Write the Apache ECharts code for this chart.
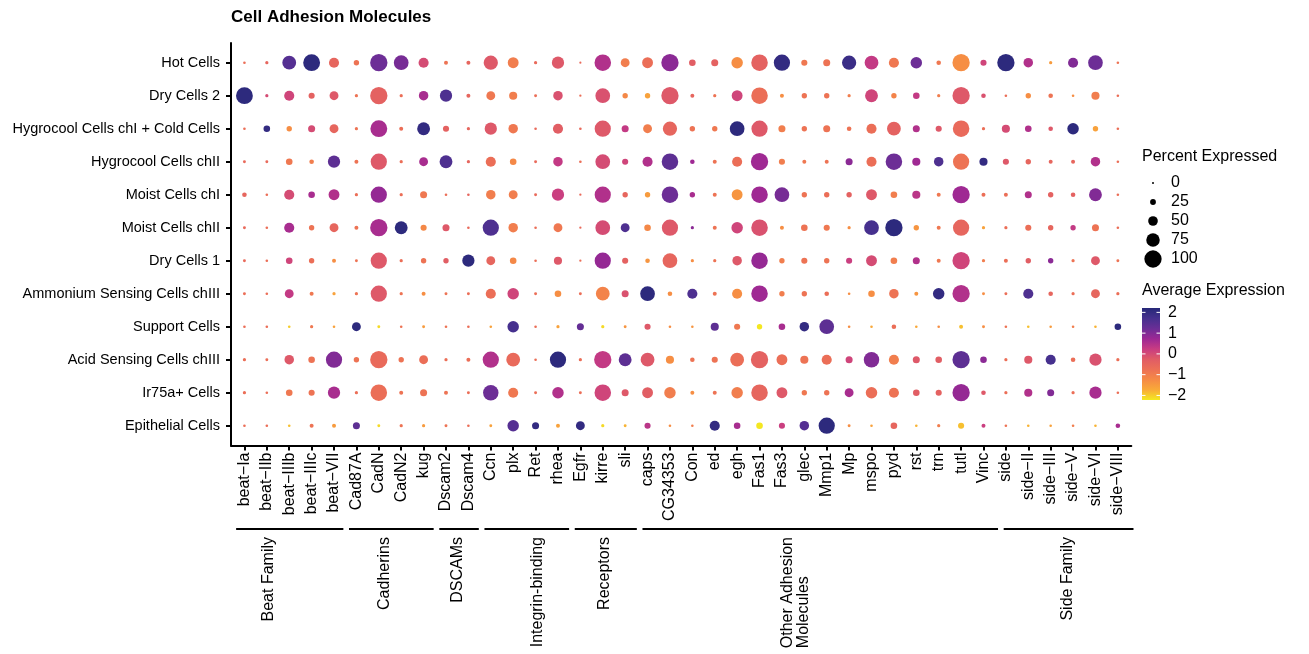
<!DOCTYPE html>
<html>
<head>
<meta charset="utf-8">
<script src="https://cdn.jsdelivr.net/npm/echarts@6/dist/echarts.min.js"></script>
<style>
  html, body { margin: 0; padding: 0; background: #fff; }
  #chart { width: 1309px; height: 654px; }
</style>
</head>
<body>
<div id="chart"></div>
<script>
// Genes (columns) and cell types (rows)
const genes = [
  'beat\u2212Ia', 'beat\u2212IIb', 'beat\u2212IIIb', 'beat\u2212IIIc', 'beat\u2212VII',
  'Cad87A', 'CadN', 'CadN2', 'kug',
  'Dscam2', 'Dscam4',
  'Ccn', 'plx', 'Ret', 'rhea',
  'Egfr', 'kirre', 'sli',
  'caps', 'CG34353', 'Con', 'ed', 'egh', 'Fas1', 'Fas3', 'glec', 'Mmp1', 'Mp', 'mspo', 'pyd', 'rst', 'trn', 'tutl', 'Vinc',
  'side', 'side\u2212II', 'side\u2212III', 'side\u2212V', 'side\u2212VI', 'side\u2212VIII'
];
const cellTypes = [
  'Hot Cells', 'Dry Cells 2', 'Hygrocool Cells chI + Cold Cells', 'Hygrocool Cells chII',
  'Moist Cells chI', 'Moist Cells chII', 'Dry Cells 1', 'Ammonium Sensing Cells chIII',
  'Support Cells', 'Acid Sensing Cells chIII', 'Ir75a+ Cells', 'Epithelial Cells'
];

// Percent of cells expressing each gene (one row per cell type)
const pctExpressed = [
  [4,8,77,97,53,22,100,83,53,13, 13,80,58,8,67,1,95,45,58,100, 30,33,62,95,93,27,33,80,77,53, 62,17,100,27,100,49,8,53,83,4],
  [97,8,53,27,45,8,100,8,49,67, 13,45,40,6,49,2,83,22,22,100, 13,8,58,95,13,22,22,8,71,22, 30,8,100,17,4,22,17,4,40,4],
  [4,30,22,33,45,8,97,13,71,27, 8,67,49,4,53,4,93,33,45,80, 22,22,83,93,33,22,33,17,53,77, 33,27,95,8,40,30,17,62,22,4],
  [6,6,30,17,67,13,93,8,45,71, 8,53,30,6,49,4,83,27,53,95, 17,13,53,100,27,13,13,33,53,95, 40,49,93,40,27,22,13,13,49,4],
  [17,4,53,30,58,8,93,8,33,4, 4,49,45,6,67,2,93,22,22,95, 22,13,58,95,83,22,22,22,58,30, 40,13,100,13,13,33,22,17,71,4],
  [6,4,53,22,45,13,100,71,27,33, 4,93,49,4,45,2,83,45,30,93, 8,13,62,95,13,30,27,8,83,100, 22,13,93,8,8,27,22,22,33,4],
  [6,4,30,22,13,6,93,8,22,22, 67,45,30,4,40,2,93,27,17,83, 8,8,49,95,22,27,22,27,58,30, 33,13,100,8,13,22,22,8,45,6],
  [6,4,45,13,8,8,93,8,13,6, 6,53,62,6,30,6,77,33,83,17, 53,13,53,95,22,22,17,4,30,49, 13,62,100,6,6,53,17,8,45,8],
  [4,4,4,8,4,45,6,4,6,4, 4,4,62,4,8,33,8,6,27,4, 4,40,27,22,30,49,83,4,4,17, 4,4,13,6,4,4,4,4,4,30],
  [8,6,49,30,93,22,100,22,45,8, 13,93,77,4,93,8,100,71,77,40, 17,27,77,100,58,40,53,33,88,53, 33,30,100,30,8,40,53,17,67,8],
  [8,4,30,27,67,8,95,13,33,13, 6,88,53,6,62,6,95,33,58,62, 13,13,62,95,58,22,22,45,62,53, 30,27,100,17,8,40,33,8,67,4],
  [4,4,4,13,13,33,6,8,8,6, 4,6,62,33,13,45,8,6,27,4, 4,53,30,30,27,49,93,6,4,30, 4,8,27,13,4,4,4,4,4,17]
];

// Scaled average expression (one row per cell type)
const avgExpression = [
  [-0.7,-0.5,1.5,2.1,-0.5,-0.8,1.2,1.1,0.0,-0.8, -0.5,-0.2,-1.0,-0.6,-0.2,-0.6,0.5,-1.0,-0.7,0.9, -0.3,-0.4,-1.3,-0.4,2.0,-0.9,-0.8,1.9,0.3,-0.9, 1.2,-0.9,-1.3,0.1,2.1,0.5,-1.5,1.0,1.2,-0.8],
  [2.1,0.0,0.1,-0.4,-0.2,-0.8,-0.4,-0.7,0.6,1.6, -0.5,-0.9,-1.0,-0.7,-0.1,-0.7,-0.1,-1.2,-1.6,-0.2, -0.5,-0.8,0.1,-0.7,-1.3,-0.8,-0.8,-1.0,0.1,-1.1, 0.3,-1.0,-0.2,-0.1,-0.7,-1.3,-0.8,-1.3,-1.0,-0.7],
  [-0.7,2.0,-1.3,0.0,-0.5,-0.8,0.6,-0.7,2.0,-0.4, -0.5,-0.2,-0.9,-0.6,-0.3,-0.6,-0.2,0.3,-1.0,-0.5, -0.8,-0.9,2.1,-0.2,-1.0,-0.8,-0.8,-0.8,-0.7,-0.4, 0.5,-0.2,-0.6,-0.7,0.0,0.5,-0.2,2.1,-1.6,-0.7],
  [-0.6,-0.6,-0.9,-1.0,1.4,-0.8,-0.2,-0.7,0.6,1.6, -0.5,-0.7,-1.2,-0.6,0.3,-0.7,0.0,0.1,0.5,1.4, 0.7,-0.8,-0.7,0.7,-1.0,-0.9,-0.8,0.9,-0.7,1.2, 0.7,1.6,-0.8,2.0,-0.2,-0.5,-0.5,-0.5,0.5,-0.7],
  [-0.5,-0.7,0.0,0.6,0.5,-0.7,0.8,-0.7,-0.9,-0.7, -0.5,-1.0,-1.0,-0.6,0.2,-0.6,0.5,-0.5,-1.5,1.2, 0.6,-0.8,-1.4,0.7,1.1,-0.8,-0.7,-0.4,-0.2,-1.0, 0.4,-0.9,0.7,-0.7,-0.7,0.5,-0.4,-0.4,1.0,-0.7],
  [-0.6,-0.7,0.6,-0.8,-0.5,-0.8,0.6,2.1,-1.2,-0.2, -0.6,1.6,-1.0,-0.7,-0.9,-0.6,0.0,1.6,-1.2,-0.2, 0.9,-0.8,0.1,-0.1,-1.3,-0.8,-0.9,-1.3,1.7,2.1, -1.4,-0.9,-0.5,-1.6,-0.7,-0.7,-0.5,0.3,-0.8,-0.7],
  [-0.6,-0.7,0.1,-0.7,-1.3,-0.8,-0.2,-0.7,-0.8,-0.3, 2.1,-0.5,-1.2,-0.7,-0.2,-0.7,0.8,-0.4,-1.4,-0.5, -1.3,-0.8,-0.2,0.8,-1.0,-0.8,-0.8,0.2,0.0,-1.0, 0.5,-0.9,0.1,-1.0,-0.7,-0.3,0.9,-0.8,-0.2,-0.8],
  [-0.7,-0.7,0.3,-0.9,-1.6,-0.8,-0.2,-0.8,-1.3,-0.8, -0.7,-0.7,0.1,-0.7,-1.3,-0.7,-1.1,-0.1,2.1,-1.3, 1.6,-0.8,-1.3,0.7,-1.0,-0.8,-0.7,-1.3,-1.3,-0.8, -1.4,2.0,0.5,-1.3,-0.7,1.6,-0.5,-0.7,-0.5,-0.7],
  [-0.7,-0.7,-2.0,-0.9,-1.6,2.1,-2.1,-0.8,-1.5,-0.8, -0.7,-1.6,1.7,-0.7,-1.6,1.3,-2.1,-1.4,-0.2,-1.3, -1.4,1.4,-0.9,-2.2,0.6,2.0,1.4,-1.3,-1.7,-0.7, -1.7,-1.3,-1.9,-1.3,-0.8,-1.9,-1.5,-1.0,-1.8,2.1],
  [-0.7,-0.7,-0.2,-0.8,1.0,-0.8,-0.6,-0.8,-0.7,-0.7, -0.7,0.5,-0.6,-0.7,2.1,-0.7,0.3,1.4,-0.2,-1.3, -0.8,-0.8,-0.7,-0.4,-0.7,-0.8,-0.7,0.1,1.0,-1.0, -0.2,-0.3,1.4,0.9,-0.7,-0.2,1.7,-0.7,-0.1,-0.7],
  [-0.7,-0.7,-0.9,-0.8,0.6,-0.7,-0.7,-0.8,-0.8,-0.8, -0.7,1.2,-0.9,-0.7,0.5,-0.7,0.1,-0.2,-0.3,-1.0, -1.3,-0.8,-1.0,-0.5,-0.2,-0.9,-0.8,0.6,-0.7,-0.8, -0.3,-0.4,0.8,-0.2,-0.7,0.5,1.0,-0.7,0.6,-0.7],
  [-0.7,-0.7,-1.9,-0.8,-1.5,1.4,-2.1,-0.8,-1.5,-0.8, -0.7,-1.6,1.5,2.0,-1.6,2.0,-2.1,-1.8,0.4,-1.3, -1.0,2.0,0.6,-2.2,0.2,1.5,2.1,-1.3,-1.6,-0.5, -1.8,-1.0,-1.9,0.2,-0.8,-1.8,-1.6,-1.0,-1.8,0.6]
];

// Gene families along the bottom: names, number of genes, label anchor
const groupNames = ['Beat Family', 'Cadherins', 'DSCAMs', 'Integrin-binding', 'Receptors', 'Other Adhesion\nMolecules', 'Side Family'];
const groupSizes = [5, 4, 2, 4, 3, 16, 6];
const groupLabelAt = [1.47, 6.64, 9.88, 13.42, 16.39, 24.83, 36.87];

// Legend breaks
const sizeBreaks = [0, 25, 50, 75, 100];
const colorTicks = [-2, -1, 0, 1, 2];
const avgRange = [-2.22, 2.21];

// Low -> high colour ramp
const palette = ['#f4ea20', '#f9aa38', '#f58a46', '#ec7056', '#e05c66', '#c83c82', '#9c2894', '#6a2e96', '#45308e', '#262878'];

const FONT = '"Liberation Sans", Arial, Helvetica, sans-serif';
const dotSize = p => 2 + 0.153 * p;
const minus = v => String(v).replace('-', '\u2212');

const dots = [];
cellTypes.forEach((ct, r) => {
  genes.forEach((g, c) => dots.push([c, r, pctExpressed[r][c], avgExpression[r][c]]));
});

// Bracket spans from cumulative family sizes
const brackets = [];
let acc = 0;
groupSizes.forEach((n, i) => {
  brackets.push([acc + 0.05, acc + n - 0.2, groupLabelAt[i]]);
  acc += n;
});

const measureCtx = document.createElement('canvas').getContext('2d');
measureCtx.font = '16px ' + FONT;

const geneIdx = genes.map((_, i) => i);
const cellIdx = cellTypes.map((_, i) => i);

const chart = echarts.init(document.getElementById('chart'), null, { renderer: 'canvas' });

chart.setOption({
  animation: false,
  backgroundColor: '#ffffff',
  textStyle: { fontFamily: FONT },
  title: [
    { text: 'Cell Adhesion Molecules', left: 231, top: 9, padding: 0,
      textStyle: { fontSize: 17, fontWeight: 'bold', color: '#000', fontFamily: FONT } },
    { text: 'Percent Expressed', left: 1142, top: 149, padding: 0,
      textStyle: { fontSize: 16, fontWeight: 'normal', color: '#000', fontFamily: FONT } },
    { text: 'Average Expression', left: 1142, top: 283, padding: 0,
      textStyle: { fontSize: 16, fontWeight: 'normal', color: '#000', fontFamily: FONT } }
  ],
  grid: [
    { left: 231, right: 177.7, top: 42.9, bottom: 208.5 },
    { left: 1142, width: 18, top: 308, height: 92 },
    { left: 1143, width: 20, top: 173.5, height: 95 },
    { left: 235, width: 903, top: 529, height: 120 }
  ],
  xAxis: [
    {
      gridIndex: 0, type: 'value', min: -0.6, max: genes.length - 0.4,
      splitLine: { show: false },
      axisLine: { onZero: false, lineStyle: { color: '#000', width: 2 } },
      axisTick: { customValues: geneIdx, length: 5, lineStyle: { color: '#000', width: 2 } },
      axisLabel: { customValues: geneIdx, formatter: v => genes[Math.round(v)], rotate: 90,
        fontSize: 16, color: '#000', margin: 7, fontFamily: FONT }
    },
    { gridIndex: 1, type: 'value', min: 0, max: 1, show: false },
    { gridIndex: 2, type: 'value', min: 0, max: 1, show: false },
    { gridIndex: 3, type: 'value', min: 0, max: genes.length, show: false }
  ],
  yAxis: [
    {
      gridIndex: 0, type: 'value', inverse: true, min: -0.6, max: cellTypes.length - 0.4,
      splitLine: { show: false },
      axisLine: { onZero: false, lineStyle: { color: '#000', width: 2 } },
      axisTick: { customValues: cellIdx, length: 5, lineStyle: { color: '#000', width: 2 } },
      axisLabel: { customValues: cellIdx, formatter: v => cellTypes[Math.round(v)],
        fontSize: 14.5, color: '#000', margin: 11, fontFamily: FONT }
    },
    {
      gridIndex: 1, type: 'value', min: avgRange[0], max: avgRange[1], position: 'right',
      splitLine: { show: false }, axisLine: { show: false }, axisTick: { show: false },
      axisLabel: { customValues: colorTicks, formatter: minus, fontSize: 16, color: '#000', margin: 8, fontFamily: FONT }
    },
    {
      gridIndex: 2, type: 'category', data: sizeBreaks.map(String), inverse: true, position: 'right',
      splitLine: { show: false }, axisLine: { show: false }, axisTick: { show: false },
      axisLabel: { interval: 0, fontSize: 16, color: '#000', margin: 8, fontFamily: FONT }
    },
    { gridIndex: 3, type: 'value', min: 0, max: 1, show: false }
  ],
  visualMap: {
    show: false, type: 'continuous', seriesIndex: 0, dimension: 3,
    min: avgRange[0], max: avgRange[1], inRange: { color: palette }
  },
  series: [
    {
      type: 'scatter', xAxisIndex: 0, yAxisIndex: 0, data: dots,
      symbol: 'circle', symbolSize: v => dotSize(v[2]),
      itemStyle: { opacity: 1 }, emphasis: { disabled: true }
    },
    {
      type: 'custom', xAxisIndex: 1, yAxisIndex: 1, data: [[0]], silent: true,
      renderItem: (params, api) => {
        const tl = api.coord([0, avgRange[1]]);
        const br = api.coord([1, avgRange[0]]);
        const children = [{
          type: 'rect',
          shape: { x: tl[0], y: tl[1], width: br[0] - tl[0], height: br[1] - tl[1] },
          style: { fill: new echarts.graphic.LinearGradient(0, 1, 0, 0,
            palette.map((c, i) => ({ offset: i / (palette.length - 1), color: c }))) }
        }];
        colorTicks.forEach(t => {
          const p = api.coord([0, t]);
          children.push({ type: 'line', shape: { x1: tl[0], y1: p[1], x2: tl[0] + 3.5, y2: p[1] },
            style: { stroke: '#ffffff', lineWidth: 1 } });
          children.push({ type: 'line', shape: { x1: br[0] - 3.5, y1: p[1], x2: br[0], y2: p[1] },
            style: { stroke: '#ffffff', lineWidth: 1 } });
        });
        return { type: 'group', children };
      }
    },
    {
      type: 'scatter', xAxisIndex: 2, yAxisIndex: 2, silent: true,
      data: sizeBreaks.map((p, i) => [0.5, i, p]),
      symbol: 'circle', symbolSize: v => dotSize(v[2]),
      itemStyle: { color: '#000', opacity: 1 }
    },
    {
      type: 'custom', xAxisIndex: 3, yAxisIndex: 3, data: brackets, silent: true, clip: false,
      renderItem: (params, api) => {
        const s = api.coord([api.value(0), 1]);
        const e = api.coord([api.value(1), 1]);
        const l = api.coord([api.value(2), 1]);
        const name = groupNames[params.dataIndex];
        const lines = name.split('\n');
        const top = s[1] + 8;
        let label;
        if (lines.length > 1) {
          const w = Math.max(...lines.map(t => measureCtx.measureText(t).width));
          label = { type: 'text', x: l[0], y: top + w, rotation: Math.PI / 2,
            style: { text: name, fontSize: 16, fontFamily: FONT, fill: '#000', align: 'left', verticalAlign: 'middle', lineHeight: 16 } };
        } else {
          label = { type: 'text', x: l[0], y: top, rotation: Math.PI / 2,
            style: { text: name, fontSize: 16, fontFamily: FONT, fill: '#000', align: 'right', verticalAlign: 'middle' } };
        }
        return { type: 'group', children: [
          { type: 'line', shape: { x1: s[0], y1: s[1], x2: e[0], y2: e[1] }, style: { stroke: '#000', lineWidth: 2 } },
          label
        ] };
      }
    }
  ]
});
</script>
</body>
</html>
